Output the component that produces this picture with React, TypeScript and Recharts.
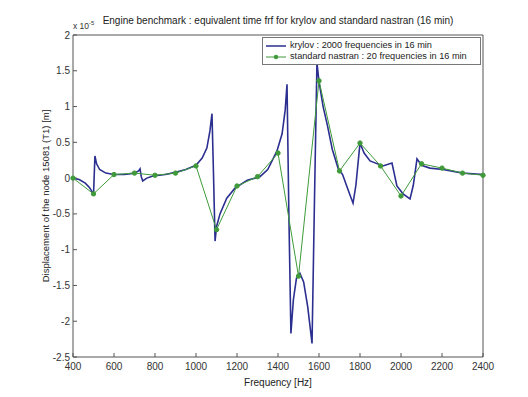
import { LineChart, Line, XAxis, YAxis } from "recharts";

// krylov : 2000 frequencies in 16 min (values in 1e-5 m)
const krylovFreq = [
  400, 430, 460, 480, 495, 500, 503, 507, 515, 530, 560, 600, 650, 700, 720,
  727, 733, 740, 760, 790, 850, 900, 950, 1000, 1030, 1053, 1068, 1078, 1085,
  1093, 1100, 1117, 1150, 1190, 1250, 1312, 1350, 1395, 1420, 1435, 1444, 1453,
  1463, 1475, 1490, 1507, 1525, 1545, 1566, 1578, 1590, 1600, 1620, 1640, 1665,
  1693, 1715, 1740, 1766, 1780, 1800, 1820, 1849, 1912, 1956, 1980, 2010, 2044,
  2060, 2078, 2100, 2141, 2205, 2302, 2400,
];
const krylovValues = [
  0, -0.02, -0.07, -0.13, -0.2, -0.24, 0.0, 0.31, 0.2, 0.12, 0.07, 0.05, 0.05,
  0.07, 0.1, 0.13, 0.02, -0.04, 0.0, 0.03, 0.05, 0.08, 0.12, 0.18, 0.28, 0.42,
  0.66, 0.9, 0.1, -0.88, -0.68, -0.5, -0.28, -0.14, -0.03, 0.02, 0.12, 0.38,
  0.62, 0.95, 1.31, -0.5, -2.17, -1.7, -1.4, -1.33, -1.45, -1.8, -2.31, -0.3,
  1.61, 1.35, 1.0, 0.75, 0.4, 0.14, 0.05, -0.15, -0.35, -0.1, 0.49, 0.35, 0.24,
  0.17, 0.21, -0.11, -0.22, -0.29, -0.1, 0.27, 0.18, 0.14, 0.12, 0.07, 0.05,
];

// standard nastran : 20 frequencies in 16 min
const nastranFreq = [
  400, 500, 600, 700, 800, 900, 1000, 1100, 1200, 1300, 1400, 1500, 1600, 1700,
  1800, 1900, 2000, 2100, 2200, 2300, 2400,
];
const nastranValues = [
  0, -0.22, 0.05, 0.07, 0.04, 0.07, 0.17, -0.72, -0.11, 0.02, 0.35, -1.37, 1.36,
  0.1, 0.49, 0.17, -0.25, 0.2, 0.14, 0.07, 0.04,
];

const xTicks = [400, 600, 800, 1000, 1200, 1400, 1600, 1800, 2000, 2200, 2400];
const yTicks = [-2.5, -2, -1.5, -1, -0.5, 0, 0.5, 1, 1.5, 2];

const krylovData = krylovFreq.map((f, i) => ({ f, v: krylovValues[i] }));
const nastranData = nastranFreq.map((f, i) => ({ f, v: nastranValues[i] }));

const FONT = "'Liberation Sans', Arial, sans-serif";
const AXIS = "#555";
const BLUE = "#2b2f8f";
const GREEN = "#3f9a3a";

function LegendBox() {
  return (
    <div
      style={{
        position: "absolute",
        left: 262,
        top: 37,
        width: 219,
        boxSizing: "border-box",
        border: "1px solid #777",
        background: "#fff",
        padding: "2px 2px",
        fontSize: 9.2,
        fontFamily: FONT,
        color: "#222",
        lineHeight: "11px",
        whiteSpace: "nowrap",
      }}
    >
      <div style={{ display: "flex", alignItems: "center" }}>
        <svg width={22} height={10}>
          <line x1={1} x2={21} y1={5} y2={5} stroke={BLUE} strokeWidth={1.5} />
        </svg>
        <span style={{ marginLeft: 3 }}>krylov : 2000 frequencies in 16 min</span>
      </div>
      <div style={{ display: "flex", alignItems: "center" }}>
        <svg width={22} height={10}>
          <line x1={1} x2={21} y1={5} y2={5} stroke={GREEN} strokeWidth={1} />
          <circle cx={11} cy={5} r={2.2} fill={GREEN} />
        </svg>
        <span style={{ marginLeft: 3 }}>standard nastran : 20 frequencies in 16 min</span>
      </div>
    </div>
  );
}

export default function App() {
  return (
    <div
      style={{
        position: "absolute",
        left: 0,
        top: 0,
        width: 528,
        height: 397,
        background: "#fff",
        fontFamily: FONT,
      }}
    >
      <div
        style={{
          position: "absolute",
          left: 0,
          width: 556,
          top: 15,
          textAlign: "center",
          fontSize: 10,
          color: "#222",
        }}
      >
        Engine benchmark : equivalent time frf for krylov and standard nastran (16 min)
      </div>
      <div style={{ position: "absolute", left: 73, top: 20, fontSize: 8.5, color: "#333" }}>
        x 10<sup style={{ fontSize: 6 }}>-5</sup>
      </div>
      <div
        style={{
          position: "absolute",
          left: 0,
          width: 556,
          top: 377,
          textAlign: "center",
          fontSize: 10,
          color: "#222",
        }}
      >
        Frequency [Hz]
      </div>
      <div
        style={{
          position: "absolute",
          left: 45,
          top: 196,
          transform: "translate(-50%, -50%) rotate(-90deg)",
          whiteSpace: "nowrap",
          fontSize: 9.5,
          color: "#222",
        }}
      >
        Displacement of the node 15081 (T1) [m]
      </div>
      <LineChart
        width={528}
        height={397}
        margin={{ top: 34, right: 44, left: 38, bottom: 20 }}
        style={{ position: "absolute", left: 0, top: 0 }}
      >
        <XAxis
          xAxisId="b"
          dataKey="f"
          type="number"
          domain={[400, 2400]}
          ticks={xTicks}
          allowDuplicatedCategory={false}
          height={20}
          stroke={AXIS}
          tickSize={-4}
          tickMargin={10}
          tick={{ fill: "#333", fontSize: 10, fontFamily: FONT }}
        />
        <XAxis
          xAxisId="t"
          orientation="top"
          dataKey="f"
          type="number"
          domain={[400, 2400]}
          ticks={xTicks}
          allowDuplicatedCategory={false}
          height={1}
          stroke={AXIS}
          tickSize={-4}
          tick={false}
        />
        <YAxis
          yAxisId="l"
          type="number"
          domain={[-2.5, 2]}
          ticks={yTicks}
          width={35}
          stroke={AXIS}
          tickSize={-4}
          tickMargin={7}
          tick={{ fill: "#333", fontSize: 10, fontFamily: FONT }}
        />
        <YAxis
          yAxisId="r"
          orientation="right"
          type="number"
          domain={[-2.5, 2]}
          ticks={yTicks}
          width={1}
          stroke={AXIS}
          tickSize={-4}
          tick={false}
        />
        <Line
          xAxisId="b"
          yAxisId="l"
          data={krylovData}
          dataKey="v"
          stroke={BLUE}
          strokeWidth={1.6}
          dot={false}
          type="linear"
          isAnimationActive={false}
        />
        <Line
          xAxisId="b"
          yAxisId="l"
          data={nastranData}
          dataKey="v"
          stroke={GREEN}
          strokeWidth={1}
          dot={{ r: 2.2, fill: GREEN, stroke: GREEN }}
          type="linear"
          isAnimationActive={false}
        />
      </LineChart>
      <LegendBox />
    </div>
  );
}
